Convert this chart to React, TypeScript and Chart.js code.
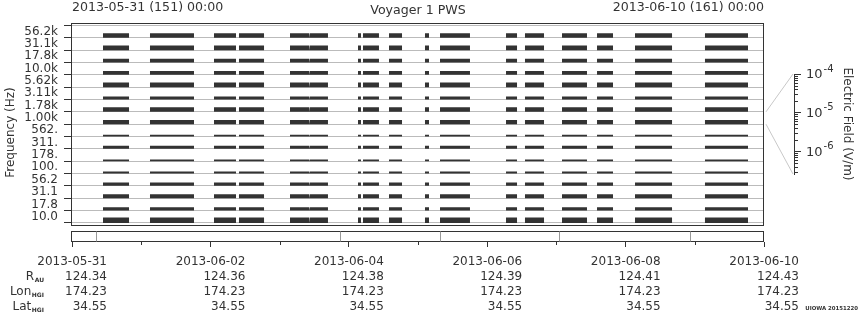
import React, { useEffect, useRef } from 'react';
import { Chart, registerables } from 'chart.js';

Chart.register(...registerables);

// ---------------- data ----------------
const channelLabels = ['10.0', '17.8', '31.1', '56.2', '100.', '178.', '311.', '562.', '1.00k', '1.78k', '3.11k', '5.62k', '10.0k', '17.8k', '31.1k', '56.2k'];
// typical field level of each channel (V/m), bottom channel first
const channelLevels = [3.4e-6, 1.29e-6, 1.82e-6, 1.29e-6, 6.9e-7, 6.0e-7, 1.12e-6, 6.0e-7, 2.0e-6, 2.3e-6, 1.12e-6, 2.5e-6, 1.66e-6, 1.66e-6, 2.3e-6, 2.3e-6];
// data coverage intervals, days after 2013-05-31 00:00
const segmentStarts = [0.448, 1.127, 2.052, 2.413, 3.150, 3.439, 4.133, 4.205, 4.581, 5.101, 5.318, 6.272, 6.546, 7.081, 7.587, 8.136, 9.147];
const segmentEnds = [0.824, 1.763, 2.370, 2.775, 3.425, 3.699, 4.176, 4.436, 4.769, 5.159, 5.751, 6.431, 6.821, 7.442, 7.818, 8.671, 9.769];
const stripMarks = [0.342, 3.873, 5.318, 7.038, 8.931];
const tickDays = [0, 2, 4, 6, 8, 10];
const minorTickDays = [1, 3, 5, 7, 9];
const dateLabels = ['2013-05-31', '2013-06-02', '2013-06-04', '2013-06-06', '2013-06-08', '2013-06-10'];
const rAU = ['124.34', '124.36', '124.38', '124.39', '124.41', '124.43'];
const lonHGI = ['174.23', '174.23', '174.23', '174.23', '174.23', '174.23'];
const latHGI = ['34.55', '34.55', '34.55', '34.55', '34.55', '34.55'];
const rowHeads = [['R', 'AU'], ['Lon', 'HGI'], ['Lat', 'HGI']];
const colorbarMajor = [1e-6, 1e-5, 1e-4];
const E_MIN = 2.6e-7;
const E_MAX = 1e-4;
const zoomChannel = '1.00k';
const titleText = 'Voyager 1 PWS';
const startText = '2013-05-31 (151) 00:00';
const endText = '2013-06-10 (161) 00:00';
const creditText = 'UIOWA 20151220';

// ---------------- style ----------------
const FONT = '"DejaVu Sans", sans-serif';
const INK = '#333333';
const BAR = '#333333';
const GRID = '#bbbbbb';

function levelToHeight(E: number) {
  return (Math.log10(E) - Math.log10(E_MIN)) / (Math.log10(E_MAX) - Math.log10(E_MIN));
}

function buildDatasets() {
  return channelLevels.map((E, i) => {
    const h = levelToHeight(E);
    const data: { x: number; y: number }[] = [];
    segmentStarts.forEach((s, k) => {
      const e = segmentEnds[k];
      data.push({ x: s, y: i }, { x: s, y: i + h }, { x: e, y: i + h }, { x: e, y: i });
    });
    return {
      label: channelLabels[i],
      data,
      fill: { value: i },
      backgroundColor: BAR,
      borderColor: 'rgba(0,0,0,0)',
      borderWidth: 0,
      pointRadius: 0,
      tension: 0,
    };
  });
}

const decorPlugin = {
  id: 'decor',
  afterDraw(chart: any) {
    const { ctx, chartArea: a } = chart;
    const x = chart.scales.x;
    const y = chart.scales.y;
    ctx.save();
    ctx.strokeStyle = INK;
    ctx.lineWidth = 1;
    const L = Math.round(a.left) - 0.5;
    const R = Math.round(a.right) - 0.5;
    const T = Math.round(a.top) + 0.5;
    const boxBottom = Math.round(y.getPixelForValue(-0.15)) + 0.5;
    const stripTop = Math.round(y.getPixelForValue(-0.62)) + 0.5;
    const B = Math.round(a.bottom) - 0.5;
    ctx.strokeRect(L, T, R - L, boxBottom - T);
    ctx.strokeRect(L, stripTop, R - L, B - stripTop);
    // strip marks
    ctx.strokeStyle = '#999999';
    stripMarks.forEach((d) => {
      const px = Math.round(x.getPixelForValue(d)) + 0.5;
      ctx.beginPath();
      ctx.moveTo(px, stripTop);
      ctx.lineTo(px, B);
      ctx.stroke();
    });
    // minor ticks
    ctx.strokeStyle = INK;
    minorTickDays.forEach((d) => {
      const px = Math.round(x.getPixelForValue(d)) + 0.5;
      ctx.beginPath();
      ctx.moveTo(px, a.bottom);
      ctx.lineTo(px, a.bottom + 3);
      ctx.stroke();
    });
    // header texts
    ctx.fillStyle = INK;
    ctx.font = `12.6px ${FONT}`;
    ctx.textBaseline = 'middle';
    ctx.textAlign = 'left';
    ctx.fillText(startText, a.left, 8);
    ctx.textAlign = 'right';
    ctx.fillText(endText, a.right, 8);
    ctx.textAlign = 'center';
    ctx.fillText(titleText, (a.left + a.right) / 2, 11);
    // ephemeris row heads
    const firstLine = a.bottom + 5 + 7 + 7.5;
    rowHeads.forEach(([main, sub], k) => {
      const cy = firstLine + 15 * (k + 1);
      ctx.font = `bold 6px ${FONT}`;
      ctx.textAlign = 'right';
      const sw = ctx.measureText(sub).width;
      ctx.fillText(sub, 44, cy + 4);
      ctx.font = `12px ${FONT}`;
      ctx.fillText(main, 44 - sw - 0.5, cy);
    });
    // credit
    ctx.font = `bold 5.4px ${FONT}`;
    ctx.textAlign = 'right';
    ctx.fillText(creditText, 858, 309);
    ctx.restore();
  },
};

function makeColorbarPlugin(main: any) {
  return {
    id: 'cbdecor',
    afterDraw(chart: any) {
      const { ctx } = chart;
      const y = chart.scales.y;
      const my = main.scales.y;
      const idx = channelLabels.indexOf(zoomChannel);
      const offsetTop = 60;
      ctx.save();
      // connection lines
      ctx.strokeStyle = '#c8c8c8';
      ctx.lineWidth = 1;
      ctx.beginPath();
      ctx.moveTo(2, my.getPixelForValue(idx + 1) - offsetTop);
      ctx.lineTo(y.left - 1, y.getPixelForValue(E_MAX));
      ctx.moveTo(2, my.getPixelForValue(idx) - offsetTop);
      ctx.lineTo(y.left - 1, y.getPixelForValue(E_MIN));
      ctx.stroke();
      // minor ticks
      ctx.strokeStyle = INK;
      const e0 = Math.floor(Math.log10(E_MIN));
      const e1 = Math.ceil(Math.log10(E_MAX));
      for (let e = e0; e <= e1; e++) {
        for (let m = 2; m <= 9; m++) {
          const v = m * Math.pow(10, e);
          if (v < E_MIN || v > E_MAX) continue;
          const py = Math.round(y.getPixelForValue(v)) + 0.5;
          ctx.beginPath();
          ctx.moveTo(y.left, py);
          ctx.lineTo(y.left + 4, py);
          ctx.stroke();
        }
      }
      // labels 10^n
      ctx.fillStyle = INK;
      ctx.textBaseline = 'middle';
      ctx.textAlign = 'left';
      colorbarMajor.forEach((v) => {
        const py = y.getPixelForValue(v);
        const px = y.left + 12;
        ctx.font = `13px ${FONT}`;
        ctx.fillText('10', px, py + 1);
        const w = ctx.measureText('10').width;
        ctx.font = `10px ${FONT}`;
        ctx.fillText(String(Math.round(Math.log10(v))), px + w + 1, py - 5);
      });
      ctx.restore();
    },
  };
}

export default function App() {
  const mainRef = useRef<HTMLCanvasElement>(null);
  const cbRef = useRef<HTMLCanvasElement>(null);

  useEffect(() => {
    const main = new Chart(mainRef.current as HTMLCanvasElement, {
      type: 'line',
      data: { datasets: buildDatasets() as any },
      options: {
        animation: false,
        responsive: false,
        devicePixelRatio: 1,
        events: [],
        layout: { padding: { top: 23, right: 96, left: 0, bottom: 0 } },
        plugins: { legend: { display: false }, tooltip: { enabled: false }, title: { display: false } },
        scales: {
          x: {
            type: 'linear',
            min: 0,
            max: 10,
            position: 'bottom',
            afterBuildTicks: (s: any) => {
              s.ticks = tickDays.map((v) => ({ value: v }));
            },
            afterFit: (s: any) => {
              s.height = 78;
              s.paddingLeft = 0;
              s.paddingRight = 0;
            },
            grid: { drawOnChartArea: false, drawTicks: true, tickLength: 5, tickColor: INK, tickWidth: 1 },
            border: { display: false },
            ticks: {
              autoSkip: false,
              maxRotation: 0,
              minRotation: 0,
              align: 'end',
              labelOffset: 35,
              padding: 7,
              color: INK,
              font: { family: FONT, size: 12, lineHeight: 1.25 },
              callback: (_v: any, i: number) => [dateLabels[i], rAU[i], lonHGI[i], latHGI[i]],
            },
          },
          y: {
            type: 'linear',
            min: -1.55,
            max: 16.2,
            afterBuildTicks: (s: any) => {
              s.ticks = channelLabels.map((_, i) => ({ value: i })).concat([{ value: channelLabels.length }]);
            },
            afterFit: (s: any) => {
              s.width = 72;
              s.paddingTop = 0;
              s.paddingBottom = 0;
            },
            grid: { color: GRID, lineWidth: 1, tickColor: INK, tickLength: 8, drawTicks: true },
            border: { display: false },
            ticks: {
              autoSkip: false,
              padding: 6,
              labelOffset: -6.15,
              color: INK,
              font: { family: FONT, size: 12 },
              callback: (_v: any, i: number) => (i < channelLabels.length ? channelLabels[i] : ''),
            },
            title: {
              display: true,
              text: 'Frequency (Hz)',
              color: INK,
              font: { family: FONT, size: 12 },
              padding: { top: 4, bottom: 0 },
            },
          },
        },
      } as any,
      plugins: [decorPlugin],
    });

    const cb = new Chart(cbRef.current as HTMLCanvasElement, {
      type: 'scatter',
      data: { datasets: [] },
      options: {
        animation: false,
        responsive: false,
        devicePixelRatio: 1,
        events: [],
        layout: { padding: { top: 14, bottom: 16, left: 0, right: 0 } },
        plugins: { legend: { display: false }, tooltip: { enabled: false } },
        scales: {
          x: { type: 'linear', display: false, min: 0, max: 1 },
          y: {
            type: 'logarithmic',
            position: 'right',
            min: E_MIN,
            max: E_MAX,
            afterBuildTicks: (s: any) => {
              s.ticks = colorbarMajor.map((v) => ({ value: v }));
            },
            afterFit: (s: any) => {
              s.width = 66;
              s.paddingTop = 0;
              s.paddingBottom = 0;
            },
            grid: { drawOnChartArea: false, drawTicks: true, tickLength: 7, tickColor: INK },
            border: { display: true, color: INK, width: 1 },
            ticks: { callback: () => '', padding: 5 },
            title: {
              display: true,
              text: 'Electric Field (V/m)',
              color: INK,
              font: { family: FONT, size: 12 },
              padding: { top: 6, bottom: 0 },
            },
          },
        },
      } as any,
      plugins: [makeColorbarPlugin(main)],
    });

    return () => {
      cb.destroy();
      main.destroy();
    };
  }, []);

  return (
    <div style={{ position: 'absolute', left: 0, top: 0, width: 860, height: 320, background: '#ffffff' }}>
      <canvas ref={mainRef} width={860} height={320} style={{ position: 'absolute', left: 0, top: 0 }} />
      <canvas ref={cbRef} width={96} height={130} style={{ position: 'absolute', left: 764, top: 60 }} />
    </div>
  );
}
